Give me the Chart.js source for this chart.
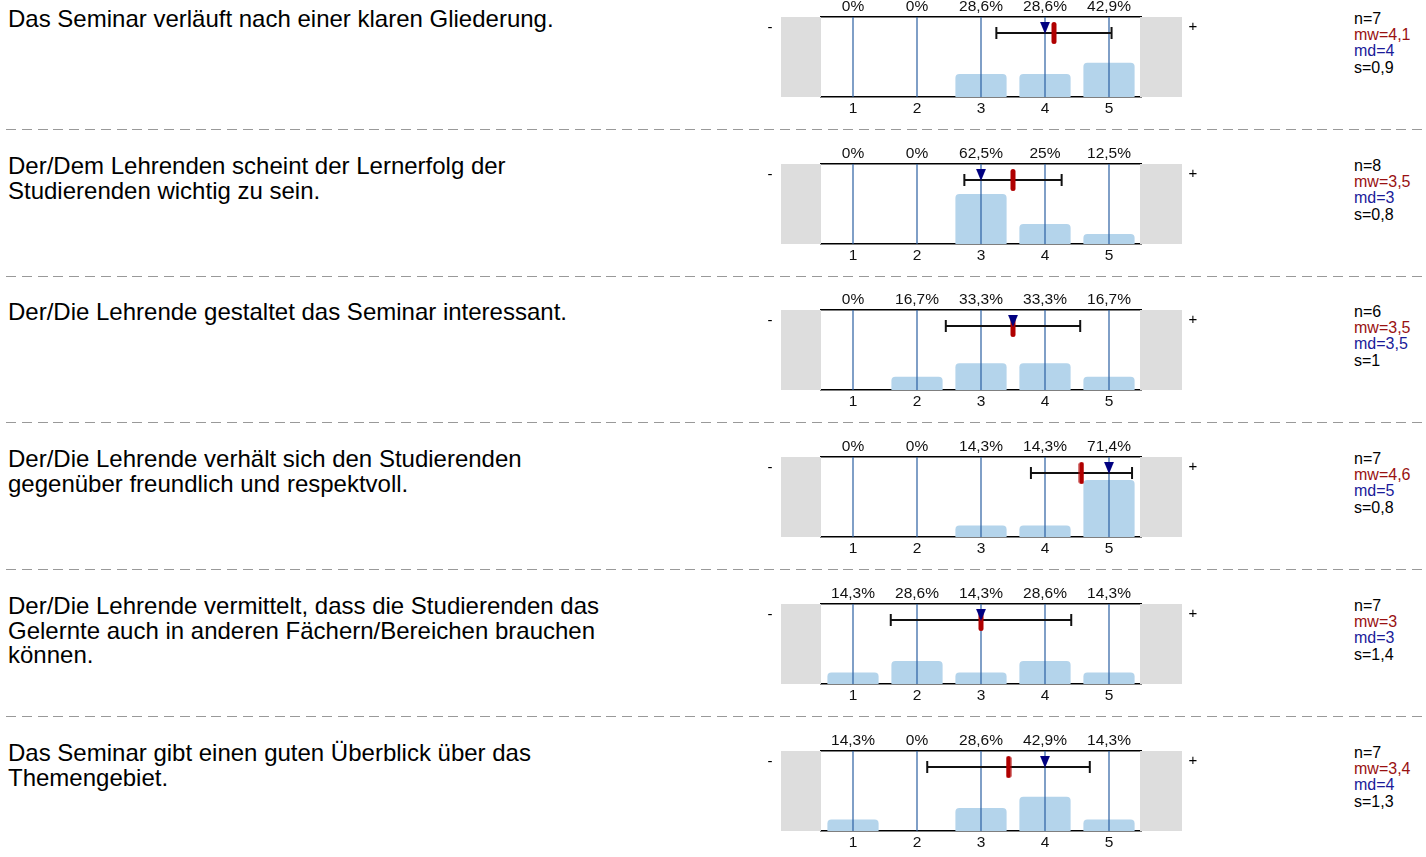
<!DOCTYPE html>
<html>
<head>
<meta charset="utf-8">
<script src="https://cdn.jsdelivr.net/npm/chart.js@4"></script>
<style>
  body { margin: 0; background: #fff; width: 1426px; height: 857px; overflow: hidden; position: relative;
         font-family: "Liberation Sans", Arial, sans-serif; }
  .row { position: absolute; left: 0; width: 1426px; height: 147px; }
  .question { position: absolute; left: 8px; top: 7px; font-size: 24px; line-height: 24.5px; color: #000; white-space: nowrap; }
  .row canvas { position: absolute; left: 760px; top: 0; }
  .stats { position: absolute; left: 1354px; top: 11px; font-size: 16px; line-height: 16.2px; color: #000; }
  .stats .mw { color: #991111; }
  .stats .md { color: #1a1a99; }
  .sep { position: absolute; left: 6px; width: 1420px; height: 1.3px; top: 129px;
         background: repeating-linear-gradient(to right, #999 0 10px, transparent 10px 15.8px); }
</style>
</head>
<body>
<div id="rows"></div>
<script>
// questions (line breaks as in the report)
let questions = [
    "Das Seminar verläuft nach einer klaren Gliederung.",
    "Der/Dem Lehrenden scheint der Lernerfolg der<br>Studierenden wichtig zu sein.",
    "Der/Die Lehrende gestaltet das Seminar interessant.",
    "Der/Die Lehrende verhält sich den Studierenden<br>gegenüber freundlich und respektvoll.",
    "Der/Die Lehrende vermittelt, dass die Studierenden das<br>Gelernte auch in anderen Fächern/Bereichen brauchen<br>können.",
    "Das Seminar gibt einen guten Überblick über das<br>Themengebiet."
];

let categories = ["1", "2", "3", "4", "5"];

// percent of answers per scale point
let percents = [
    [0, 0, 28.6, 28.6, 42.9],
    [0, 0, 62.5, 25, 12.5],
    [0, 16.7, 33.3, 33.3, 16.7],
    [0, 0, 14.3, 14.3, 71.4],
    [14.3, 28.6, 14.3, 28.6, 14.3],
    [14.3, 0, 28.6, 42.9, 14.3]
];

let means   = [4.14, 3.5, 3.5, 4.57, 3.0, 3.43];
let sds     = [0.9, 0.76, 1.05, 0.79, 1.41, 1.27];
let medians = [4, 3, 3.5, 5, 3, 4];

let nLabels  = ["7", "8", "6", "7", "7", "7"];
let mwLabels = ["4,1", "3,5", "3,5", "4,6", "3", "3,4"];
let mdLabels = ["4", "3", "3,5", "5", "3", "4"];
let sLabels  = ["0,9", "0,8", "1", "0,8", "1,4", "1,3"];

// little marker images
function makeTriangle(){
    let c = document.createElement('canvas');
    c.width = 10; c.height = 12;
    let g = c.getContext('2d');
    g.fillStyle = '#000080';
    g.beginPath();
    g.moveTo(0, 0); g.lineTo(10, 0); g.lineTo(5, 12);
    g.closePath();
    g.fill();
    return c;
}
function makeMeanBar(){
    let c = document.createElement('canvas');
    c.width = 6; c.height = 22;
    let g = c.getContext('2d');
    g.fillStyle = '#b00000';
    g.beginPath();
    g.roundRect(0.5, 0, 5, 22, 2.5);
    g.fill();
    return c;
}
let triImg = makeTriangle();
let meanImg = makeMeanBar();

let rowPlugin = {
    id: 'rowDeco',
    beforeDatasetsDraw(chart){
        let ctx = chart.ctx, a = chart.chartArea;
        ctx.save();
        ctx.fillStyle = '#dddddd';
        ctx.fillRect(a.left - 40, a.top, 40, a.bottom - a.top);
        ctx.fillRect(a.right - 1, a.top, 42, a.bottom - a.top);
        ctx.fillStyle = '#000';
        ctx.font = '15px "Liberation Sans", Arial';
        ctx.textAlign = 'center';
        ctx.textBaseline = 'middle';
        ctx.fillText('-', a.left - 51, a.top + 11);
        ctx.fillText('+', a.right + 52, a.top + 10);
        ctx.restore();
    },
    afterDatasetDraw(chart, args){
        if (args.index !== 0) return;
        let ctx = chart.ctx, a = chart.chartArea, x = chart.scales.x;
        ctx.save();
        ctx.strokeStyle = '#2a5fa2';
        ctx.lineWidth = 1.2;
        for (let i = 0; i < categories.length; i++) {
            let px = x.getPixelForTick(i);
            ctx.beginPath();
            ctx.moveTo(px, a.top);
            ctx.lineTo(px, a.bottom);
            ctx.stroke();
        }
        ctx.restore();
    }
};

let rowsEl = document.getElementById('rows');
let tickFont = { size: 15.5, family: '"Liberation Sans", Arial' };

for (let i = 0; i < questions.length; i++) {
    let row = document.createElement('div');
    row.className = 'row';
    row.style.top = Math.round(i * 146.7) + 'px';
    row.innerHTML = `
        <div class="question">${questions[i]}</div>
        <canvas width="450" height="140"></canvas>
        <div class="stats">n=${nLabels[i]}<br><span class="mw">mw=${mwLabels[i]}</span><br><span class="md">md=${mdLabels[i]}</span><br>s=${sLabels[i]}</div>
        ${i < questions.length - 1 ? '<div class="sep"></div>' : ''}
    `;
    rowsEl.appendChild(row);

    let pctLabels = percents[i].map(v => String(v).replace('.', ',') + '%');
    let m = means[i], s = sds[i];

    new Chart(row.querySelector('canvas'), {
        type: 'bar',
        data: {
            labels: categories,
            datasets: [
                {
                    data: percents[i],
                    backgroundColor: '#b4d4eb',
                    barPercentage: 0.8,
                    categoryPercentage: 1,
                    grouped: false,
                    borderRadius: 4,
                    xAxisID: 'x',
                    yAxisID: 'y',
                    order: 4
                },
                {
                    type: 'scatter',
                    data: [{x: m - s, y: 80}, {x: m + s, y: 80}],
                    showLine: true,
                    borderColor: '#111',
                    borderWidth: 2,
                    pointStyle: 'line',
                    pointRotation: 90,
                    pointRadius: 6,
                    pointBorderWidth: 2,
                    pointBorderColor: '#111',
                    xAxisID: 'xv',
                    yAxisID: 'y',
                    order: 3
                },
                {
                    type: 'scatter',
                    data: [{x: m, y: 80}],
                    pointStyle: meanImg,
                    pointRadius: 3,
                    xAxisID: 'xv',
                    yAxisID: 'y',
                    order: 2
                },
                {
                    type: 'scatter',
                    data: [{x: medians[i], y: 86.5}],
                    pointStyle: triImg,
                    pointRadius: 3,
                    xAxisID: 'xv',
                    yAxisID: 'y',
                    order: 1
                }
            ]
        },
        options: {
            responsive: false,
            animation: false,
            devicePixelRatio: 1,
            layout: { padding: { left: 61, right: 69, top: 0, bottom: 0 } },
            plugins: { legend: { display: false }, tooltip: { enabled: false } },
            scales: {
                x: {
                    type: 'category',
                    position: 'bottom',
                    offset: true,
                    grid: { display: false, drawTicks: false },
                    border: { display: true, color: '#000', width: 1.5 },
                    ticks: { color: '#111', font: tickFont, padding: 2 },
                    afterFit: sc => { sc.height = 43; }
                },
                x2: {
                    type: 'category',
                    position: 'top',
                    labels: pctLabels,
                    offset: true,
                    grid: { display: false, drawTicks: false },
                    border: { display: true, color: '#000', width: 1.5 },
                    ticks: { color: '#111', font: tickFont, padding: 1 },
                    afterFit: sc => { sc.height = 17; }
                },
                xv: { type: 'linear', min: 0.5, max: 5.5, offset: false, display: false },
                y: { min: 0, max: 100, display: false }
            }
        },
        plugins: [rowPlugin]
    });
}
</script>
</body>
</html>
